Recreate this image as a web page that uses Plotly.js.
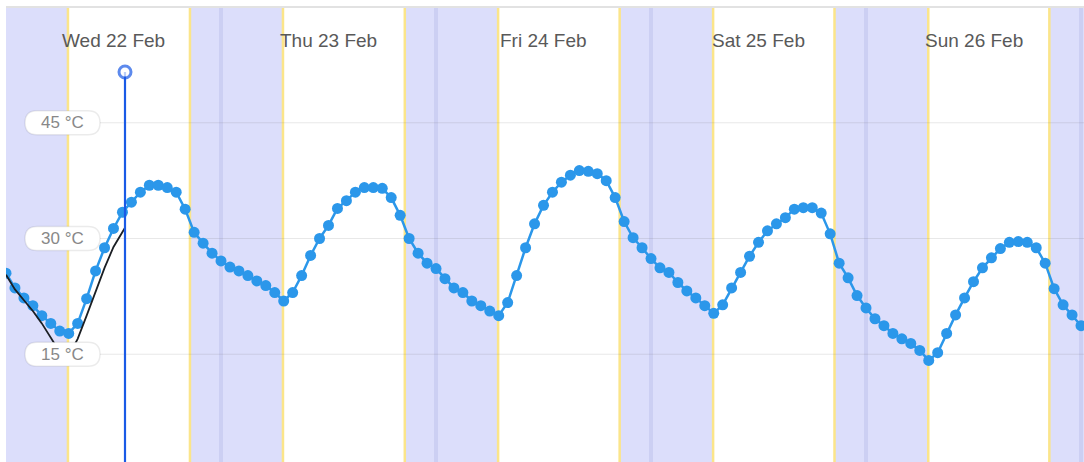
<!DOCTYPE html>
<html>
<head>
<meta charset="utf-8">
<script src="https://cdn.plot.ly/plotly-3.0.1.min.js"></script>
<style>
html, body { margin: 0; padding: 0; overflow: hidden; background: #fff; }
#chart { width: 1084px; height: 470px; }
</style>
</head>
<body>
<div id="chart"></div>
<script>
// ---- data ----
const startTime = '2023-02-22T00:00:00';
const rangeEnd = '2023-02-27 00:20';
// hourly forecast temperature (°C), starting Wed 22 Feb 00:00
const forecastTemps = [
  25.5, 23.6, 22.3, 21.3, 20.0, 19.0, 18.0, 17.7, 19.0, 22.2, 25.8, 28.8,
  31.3, 33.4, 34.7, 36.0, 36.9, 36.9, 36.6, 36.0, 33.8, 30.8, 29.4, 28.1,
  27.1, 26.3, 25.8, 25.2, 24.5, 23.9, 23.0, 21.9, 23.0, 25.2, 27.8, 30.0,
  31.7, 33.9, 34.9, 36.0, 36.6, 36.6, 36.5, 35.3, 33.0, 30.0, 28.1, 26.8,
  26.1, 24.8, 23.6, 23.0, 21.9, 21.3, 20.6, 20.0, 21.7, 25.2, 28.8, 31.9,
  34.3, 36.0, 37.3, 38.2, 38.8, 38.7, 38.4, 37.5, 35.3, 32.2, 30.1, 28.8,
  27.4, 26.2, 25.6, 24.3, 23.2, 22.3, 21.3, 20.3, 21.4, 23.6, 25.6, 27.7,
  29.5, 31.0, 31.9, 32.7, 33.8, 34.0, 34.0, 33.3, 30.6, 26.8, 24.9, 22.6,
  21.0, 19.6, 18.7, 17.7, 17.0, 16.4, 15.5, 14.2, 15.2, 17.7, 20.1, 22.3,
  24.4, 26.2, 27.5, 28.7, 29.5, 29.6, 29.5, 28.8, 26.8, 23.5, 21.4, 20.1,
  18.7, 17.6
];
// observed temperature (°C)
const observedTimes = [
  '2023-02-22 00:00', '2023-02-22 01:00', '2023-02-22 02:00', '2023-02-22 03:00',
  '2023-02-22 04:00', '2023-02-22 05:00', '2023-02-22 06:00', '2023-02-22 07:00',
  '2023-02-22 08:00', '2023-02-22 09:00', '2023-02-22 10:00', '2023-02-22 11:00',
  '2023-02-22 12:00', '2023-02-22 13:00', '2023-02-22 13:17'
];
const observedTemps = [25.3, 23.4, 22.0, 20.6, 19.0, 17.1, 15.3, 14.8, 17.0, 20.0, 23.2, 26.2, 28.9, 30.9, 31.4];
const nowTime = '2023-02-22 13:17';
const sunrise = ['2023-02-22 06:55', '2023-02-23 06:55', '2023-02-24 06:56', '2023-02-25 06:56', '2023-02-26 06:57'];
const sunset  = ['2023-02-22 20:32', '2023-02-23 20:31', '2023-02-24 20:30', '2023-02-25 20:29', '2023-02-26 20:28'];
const midnights = ['2023-02-23 00:00', '2023-02-24 00:00', '2023-02-25 00:00', '2023-02-26 00:00', '2023-02-27 00:00'];
const dayNoons = ['2023-02-22 12:00', '2023-02-23 12:00', '2023-02-24 12:00', '2023-02-25 12:00', '2023-02-26 12:00'];
const dayLabels = ['Wed 22 Feb', 'Thu 23 Feb', 'Fri 24 Feb', 'Sat 25 Feb', 'Sun 26 Feb'];
const yTicks = [15, 30, 45];
const yTickLabels = ['15 °C', '30 °C', '45 °C'];

// ---- build ----
function fmt(d) {
  const p = n => String(n).padStart(2, '0');
  return d.getFullYear() + '-' + p(d.getMonth() + 1) + '-' + p(d.getDate()) + ' ' + p(d.getHours()) + ':' + p(d.getMinutes());
}
const t0 = new Date(startTime);
const forecastTimes = forecastTemps.map((_, i) => fmt(new Date(t0.getTime() + i * 3600000)));

const plotW = 1078, plotH = 463, yMin = 0, yMax = 60;
const pxPerDeg = plotH / (yMax - yMin);

const shapes = [];
// night bands
const nightStarts = [startTime.replace('T', ' ').slice(0, 16)].concat(sunset);
const nightEnds = sunrise.concat([rangeEnd]);
for (let i = 0; i < nightStarts.length; i++) {
  shapes.push({type: 'rect', xref: 'x', yref: 'paper', x0: nightStarts[i], x1: nightEnds[i], y0: 0, y1: 1,
    fillcolor: '#dcdefb', line: {width: 0}, layer: 'below'});
}
// midnight stripes
midnights.forEach(m => shapes.push({type: 'line', xref: 'x', yref: 'paper', x0: m, x1: m, y0: 0, y1: 1,
  line: {color: 'rgba(150,155,215,0.22)', width: 4}, layer: 'below'}));
// sunrise / sunset edges
sunrise.concat(sunset).forEach(s => shapes.push({type: 'line', xref: 'x', yref: 'paper', x0: s, x1: s, y0: 0, y1: 1,
  line: {color: '#fbe58a', width: 2.5}, layer: 'below'}));
// top border
shapes.push({type: 'line', xref: 'paper', yref: 'paper', x0: 0, x1: 1, y0: 1, y1: 1,
  line: {color: '#e2e2e2', width: 2}, layer: 'below'});
// gridlines
const gx0 = (100 - 6) / plotW;
yTicks.forEach(v => shapes.push({type: 'line', xref: 'paper', yref: 'y', x0: gx0, x1: 1, y0: v, y1: v,
  line: {color: 'rgba(110,110,110,0.16)', width: 1}, layer: 'below'}));
// label pills
const px0 = (25 - 6) / plotW, px1 = (100 - 6) / plotW, rx = 12 / plotW, hh = 12 / pxPerDeg;
yTicks.forEach(v => {
  const y0 = v - hh, y1 = v + hh;
  const path = `M ${px0 + rx},${y0} L ${px1 - rx},${y0} Q ${px1},${y0} ${px1},${v} Q ${px1},${y1} ${px1 - rx},${y1} ` +
               `L ${px0 + rx},${y1} Q ${px0},${y1} ${px0},${v} Q ${px0},${y0} ${px0 + rx},${y0} Z`;
  shapes.push({type: 'path', xref: 'paper', yref: 'y', path: path, fillcolor: '#ffffff',
    line: {color: 'rgba(0,0,0,0.08)', width: 1.5}, layer: 'above'});
});

const annotations = [];
dayNoons.forEach((d, i) => annotations.push({x: d, y: 60 - 33 / pxPerDeg, xref: 'x', yref: 'y', text: dayLabels[i],
  showarrow: false, xanchor: 'center', yanchor: 'middle',
  font: {family: 'Liberation Sans, Arial, sans-serif', size: 19, color: '#595959'}}));
yTicks.forEach((v, i) => annotations.push({x: (62 - 6) / plotW, y: v, xref: 'paper', yref: 'y', text: yTickLabels[i],
  showarrow: false, xanchor: 'center', yanchor: 'middle',
  font: {family: 'Liberation Sans, Arial, sans-serif', size: 17, color: '#888888'}}));

const traces = [
  {x: forecastTimes, y: forecastTemps, type: 'scatter', mode: 'lines+markers',
   line: {color: '#2b97ea', width: 2.5}, marker: {color: '#2b97ea', size: 11}, hoverinfo: 'x+y'},
  {x: observedTimes, y: observedTemps, type: 'scatter', mode: 'lines',
   line: {color: '#1b1f24', width: 1.8}, hoverinfo: 'x+y'},
  {x: [nowTime, nowTime], y: [yMin, 60 - 65 / pxPerDeg], type: 'scatter', mode: 'lines+markers',
   line: {color: '#1a5ae6', width: 2.2}, marker: {size: [0, 12], color: '#ffffff', line: {color: '#1a5ae6', width: 3}},
   hoverinfo: 'skip', cliponaxis: false}
];

const layout = {
  width: 1084, height: 470,
  margin: {l: 6, r: 0, t: 7, b: 0, pad: 0},
  paper_bgcolor: '#ffffff', plot_bgcolor: '#ffffff',
  showlegend: false,
  xaxis: {type: 'date', range: [startTime.replace('T', ' '), rangeEnd], showgrid: false, showticklabels: false,
          zeroline: false, showline: false, ticks: ''},
  yaxis: {range: [yMin, yMax], showgrid: false, showticklabels: false, zeroline: false, showline: false, ticks: ''},
  shapes: shapes,
  annotations: annotations
};

Plotly.newPlot('chart', traces, layout, {displayModeBar: false, staticPlot: true});
</script>
</body>
</html>
